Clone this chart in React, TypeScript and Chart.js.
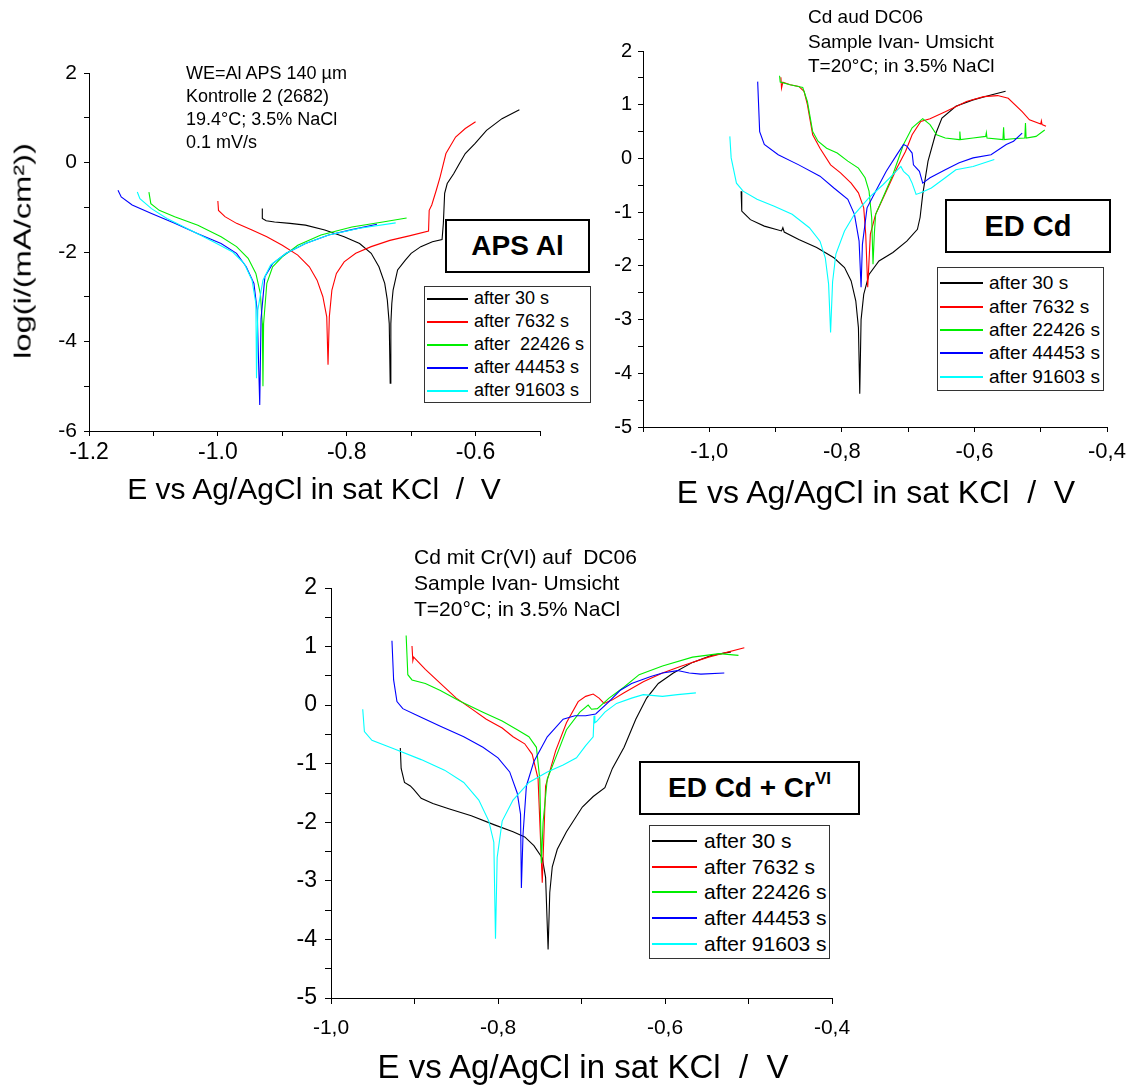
import React, { useEffect, useRef } from "react";
import { Chart, registerables } from "chart.js";

Chart.register(...registerables);

const FONT = '"Liberation Sans", Arial, Helvetica, sans-serif';
const PAGE_W = 1136;
const PAGE_H = 1091;
const YW = 60;
const XH = 50;

// ---------- shared legend / colours ----------
const apsLegendLabels = ["after 30 s", "after 7632 s", "after  22426 s", "after 44453 s", "after 91603 s"];
const cdLegendLabels = ["after 30 s", "after 7632 s", "after 22426 s", "after 44453 s", "after 91603 s"];
const seriesColors = ["#000000", "#ff0000", "#00ee00", "#0000ff", "#00ffff"];

// ---------- tick labels ----------
const apsXTickLabels = ["-1.2", "-1.0", "-0.8", "-0.6"];
const apsYTickLabels = ["-6", "-4", "-2", "0", "2"];
const cdXTickLabels = ["-1,0", "-0,8", "-0,6", "-0,4"];
const cdYTickLabels = ["-5", "-4", "-3", "-2", "-1", "0", "1", "2"];

// ---------- Panel 1: APS Al ----------
const apsE30 = [-0.931, -0.931, -0.925, -0.912, -0.888, -0.864, -0.834, -0.804, -0.780, -0.762, -0.750, -0.741, -0.737, -0.734, -0.7325, -0.7315, -0.730, -0.728, -0.721, -0.709, -0.700, -0.685, -0.667, -0.652, -0.650, -0.648, -0.644, -0.634, -0.625, -0.616, -0.601, -0.583, -0.559, -0.532];
const apsI30 = [-1.03, -1.25, -1.30, -1.33, -1.36, -1.40, -1.51, -1.66, -1.81, -2.03, -2.33, -2.70, -3.07, -3.60, -4.93, -3.60, -3.15, -2.85, -2.40, -2.18, -2.03, -1.88, -1.77, -1.72, -1.36, -0.69, -0.47, -0.25, -0.02, 0.20, 0.42, 0.72, 0.98, 1.18];
const apsE7632 = [-1.0, -0.999, -0.989, -0.971, -0.947, -0.924, -0.900, -0.876, -0.858, -0.846, -0.837, -0.831, -0.829, -0.827, -0.823, -0.816, -0.804, -0.786, -0.762, -0.733, -0.703, -0.673, -0.672, -0.668, -0.661, -0.655, -0.646, -0.631, -0.616, -0.600];
const apsI7632 = [-0.86, -1.07, -1.21, -1.36, -1.51, -1.66, -1.85, -2.07, -2.33, -2.63, -3.0, -3.45, -4.52, -3.45, -2.85, -2.48, -2.22, -2.03, -1.88, -1.74, -1.64, -1.53, -1.07, -0.95, -0.62, -0.32, 0.20, 0.57, 0.76, 0.91];
const apsE22426 = [-1.107, -1.104, -1.091, -1.067, -1.031, -0.995, -0.971, -0.953, -0.941, -0.934, -0.931, -0.930, -0.929, -0.924, -0.915, -0.900, -0.876, -0.840, -0.792, -0.744, -0.707];
const apsI22426 = [-0.66, -0.92, -1.07, -1.21, -1.40, -1.66, -1.88, -2.14, -2.48, -2.93, -3.6, -5.0, -3.6, -2.70, -2.33, -2.11, -1.85, -1.62, -1.44, -1.33, -1.24];
const apsE44453 = [-1.155, -1.150, -1.133, -1.103, -1.067, -1.031, -0.995, -0.971, -0.956, -0.944, -0.939, -0.935, -0.933, -0.927, -0.915, -0.894, -0.864, -0.828, -0.792, -0.753];
const apsI44453 = [-0.62, -0.77, -0.95, -1.14, -1.36, -1.59, -1.81, -2.03, -2.33, -2.70, -3.30, -5.42, -3.5, -2.55, -2.26, -2.03, -1.81, -1.62, -1.50, -1.38];
const apsE91603 = [-1.125, -1.121, -1.103, -1.079, -1.043, -1.007, -0.977, -0.959, -0.947, -0.941, -0.940, -0.938, -0.930, -0.918, -0.894, -0.864, -0.828, -0.780, -0.724];
const apsI91603 = [-0.66, -0.81, -1.03, -1.25, -1.51, -1.77, -2.0, -2.26, -2.63, -3.15, -4.82, -3.3, -2.63, -2.29, -2.03, -1.81, -1.62, -1.47, -1.35];

// ---------- Panel 2: ED Cd ----------
const cdE30 = [-0.952, -0.951, -0.946, -0.938, -0.917, -0.891, -0.889, -0.887, -0.865, -0.838, -0.812, -0.796, -0.786, -0.779, -0.775, -0.773, -0.771, -0.767, -0.759, -0.744, -0.723, -0.702, -0.686, -0.682, -0.678, -0.670, -0.659, -0.649, -0.628, -0.602, -0.575, -0.553];
const cdI30 = [-0.61, -0.98, -1.04, -1.14, -1.26, -1.35, -1.29, -1.37, -1.51, -1.66, -1.85, -2.03, -2.28, -2.65, -3.15, -4.38, -3.0, -2.53, -2.16, -1.91, -1.75, -1.54, -1.32, -1.10, -0.67, -0.05, 0.44, 0.75, 0.97, 1.09, 1.18, 1.25];
const cdE7632 = [-0.892, -0.891, -0.889, -0.878, -0.865, -0.857, -0.852, -0.844, -0.833, -0.817, -0.802, -0.786, -0.775, -0.767, -0.764, -0.761, -0.759, -0.757, -0.749, -0.733, -0.717, -0.704, -0.694, -0.681, -0.667, -0.644, -0.612, -0.586, -0.565, -0.549, -0.528, -0.517, -0.500, -0.499, -0.498, -0.492];
const cdI7632 = [1.51, 1.31, 1.42, 1.37, 1.34, 1.25, 1.0, 0.44, 0.19, -0.12, -0.27, -0.46, -0.64, -0.92, -1.41, -2.40, -1.9, -1.41, -1.04, -0.61, -0.18, 0.13, 0.44, 0.69, 0.74, 0.87, 1.06, 1.15, 1.17, 1.12, 0.87, 0.72, 0.64, 0.70, 0.63, 0.60];
const cdE22426 = [-0.894, -0.893, -0.878, -0.859, -0.852, -0.844, -0.836, -0.823, -0.807, -0.791, -0.775, -0.765, -0.759, -0.755, -0.753, -0.751, -0.749, -0.736, -0.723, -0.707, -0.694, -0.678, -0.667, -0.657, -0.644, -0.623, -0.622, -0.621, -0.602, -0.583, -0.582, -0.581, -0.557, -0.556, -0.555, -0.538, -0.524, -0.523, -0.522, -0.507, -0.494];
const cdI22426 = [1.54, 1.42, 1.37, 1.32, 1.06, 0.50, 0.32, 0.19, 0.10, -0.05, -0.18, -0.36, -0.61, -1.10, -1.97, -1.4, -1.04, -0.67, -0.30, 0.26, 0.57, 0.74, 0.63, 0.44, 0.38, 0.35, 0.50, 0.35, 0.38, 0.41, 0.48, 0.38, 0.35, 0.58, 0.35, 0.37, 0.38, 0.66, 0.38, 0.41, 0.53];
const cdE44453 = [-0.927, -0.924, -0.917, -0.896, -0.865, -0.833, -0.812, -0.791, -0.781, -0.774, -0.771, -0.769, -0.762, -0.749, -0.733, -0.717, -0.707, -0.702, -0.694, -0.692, -0.683, -0.678, -0.667, -0.644, -0.623, -0.602, -0.575, -0.552, -0.541, -0.528];
const cdI44453 = [1.43, 0.50, 0.26, 0.07, -0.12, -0.33, -0.55, -0.76, -1.04, -1.54, -2.40, -1.6, -0.92, -0.61, -0.24, 0.07, 0.26, 0.23, 0.10, -0.12, -0.24, -0.46, -0.36, -0.21, -0.08, 0.01, 0.07, 0.26, 0.32, 0.47];
const cdE91603 = [-0.969, -0.967, -0.959, -0.949, -0.928, -0.902, -0.875, -0.849, -0.833, -0.825, -0.820, -0.817, -0.814, -0.809, -0.796, -0.781, -0.759, -0.738, -0.723, -0.711, -0.707, -0.699, -0.694, -0.688, -0.681, -0.665, -0.644, -0.628, -0.602, -0.570];
const cdI91603 = [0.41, 0.01, -0.46, -0.61, -0.76, -0.89, -1.04, -1.29, -1.54, -1.85, -2.34, -3.24, -2.3, -1.78, -1.35, -1.04, -0.73, -0.49, -0.30, -0.15, -0.24, -0.33, -0.46, -0.67, -0.64, -0.55, -0.36, -0.21, -0.15, -0.02];

// ---------- Panel 3: ED Cd + Cr(VI) ----------
const crE30 = [-0.917, -0.916, -0.912, -0.905, -0.901, -0.892, -0.878, -0.859, -0.832, -0.805, -0.782, -0.768, -0.757, -0.747, -0.743, -0.740, -0.738, -0.735, -0.729, -0.718, -0.699, -0.686, -0.672, -0.663, -0.649, -0.635, -0.622, -0.608, -0.590, -0.567, -0.544, -0.521];
const crI30 = [-0.73, -1.08, -1.32, -1.38, -1.44, -1.59, -1.68, -1.77, -1.89, -2.04, -2.16, -2.25, -2.40, -2.61, -2.94, -4.17, -3.2, -2.76, -2.46, -2.16, -1.74, -1.56, -1.41, -1.08, -0.72, -0.24, 0.12, 0.37, 0.55, 0.73, 0.85, 0.91];
const crE7632 = [-0.903, -0.902, -0.901, -0.887, -0.869, -0.850, -0.832, -0.814, -0.795, -0.782, -0.768, -0.759, -0.752, -0.747, -0.745, -0.743, -0.731, -0.718, -0.704, -0.695, -0.686, -0.679, -0.673, -0.663, -0.649, -0.626, -0.603, -0.580, -0.548, -0.505];
const crI7632 = [1.01, 0.76, 0.82, 0.61, 0.37, 0.12, -0.06, -0.24, -0.39, -0.54, -0.66, -0.84, -1.26, -3.03, -2.2, -1.38, -0.78, -0.30, 0.06, 0.15, 0.19, 0.12, 0.03, 0.09, 0.21, 0.40, 0.55, 0.67, 0.82, 0.98];
const crE22426 = [-0.910, -0.908, -0.903, -0.887, -0.869, -0.846, -0.818, -0.795, -0.777, -0.763, -0.754, -0.750, -0.748, -0.746, -0.741, -0.731, -0.718, -0.702, -0.692, -0.688, -0.681, -0.667, -0.649, -0.631, -0.603, -0.567, -0.535, -0.512];
const crI22426 = [1.19, 0.52, 0.43, 0.37, 0.25, 0.07, -0.12, -0.27, -0.42, -0.54, -0.72, -1.26, -2.70, -2.0, -1.26, -0.90, -0.42, -0.12, 0.0, -0.07, -0.06, 0.12, 0.31, 0.52, 0.67, 0.82, 0.88, 0.85];
const crE44453 = [-0.927, -0.925, -0.921, -0.914, -0.896, -0.869, -0.841, -0.818, -0.800, -0.786, -0.777, -0.773, -0.772, -0.770, -0.766, -0.757, -0.741, -0.722, -0.708, -0.695, -0.683, -0.667, -0.654, -0.640, -0.617, -0.603, -0.585, -0.571, -0.557, -0.529];
const crI44453 = [1.10, 0.43, 0.06, -0.06, -0.18, -0.36, -0.54, -0.72, -0.90, -1.14, -1.50, -1.86, -3.12, -2.2, -1.38, -0.96, -0.54, -0.24, -0.18, -0.18, -0.15, 0.06, 0.25, 0.37, 0.49, 0.55, 0.59, 0.55, 0.53, 0.55];
const crE91603 = [-0.962, -0.960, -0.951, -0.924, -0.892, -0.864, -0.841, -0.823, -0.811, -0.805, -0.803, -0.801, -0.795, -0.782, -0.763, -0.741, -0.722, -0.706, -0.695, -0.686, -0.685, -0.684, -0.682, -0.672, -0.658, -0.640, -0.626, -0.603, -0.585, -0.563];
const crI91603 = [-0.07, -0.45, -0.60, -0.75, -0.93, -1.11, -1.32, -1.62, -1.98, -2.34, -3.99, -2.6, -1.98, -1.62, -1.32, -1.14, -1.02, -0.90, -0.69, -0.54, -0.18, -0.30, -0.28, -0.12, 0.03, 0.12, 0.18, 0.15, 0.18, 0.21];

type Area = { l: number; t: number; r: number; b: number };
type PanelCfg = {
  area: Area;
  xMin: number; xMax: number; xStep: number;
  yMin: number; yMax: number; yStep: number;
  xLabels: string[]; yLabels: string[];
  xFont: number; yFont: number; xPad: number; yPad: number; tickLen: number;
  series: { e: number[]; i: number[] }[];
  names: string[];
};

const panels: PanelCfg[] = [
  {
    area: { l: 89, t: 73, r: 540, b: 431 },
    xMin: -1.2, xMax: -0.5, xStep: 0.1, yMin: -6, yMax: 2, yStep: 1,
    xLabels: apsXTickLabels, yLabels: apsYTickLabels,
    xFont: 23, yFont: 21, xPad: 3, yPad: 7, tickLen: 5,
    series: [
      { e: apsE30, i: apsI30 }, { e: apsE7632, i: apsI7632 }, { e: apsE22426, i: apsI22426 },
      { e: apsE44453, i: apsI44453 }, { e: apsE91603, i: apsI91603 },
    ],
    names: apsLegendLabels,
  },
  {
    area: { l: 643, t: 51, r: 1107, b: 427 },
    xMin: -1.1, xMax: -0.4, xStep: 0.1, yMin: -5, yMax: 2, yStep: 0.5,
    xLabels: cdXTickLabels, yLabels: cdYTickLabels,
    xFont: 22, yFont: 20, xPad: 7, yPad: 6, tickLen: 5,
    series: [
      { e: cdE30, i: cdI30 }, { e: cdE7632, i: cdI7632 }, { e: cdE22426, i: cdI22426 },
      { e: cdE44453, i: cdI44453 }, { e: cdE91603, i: cdI91603 },
    ],
    names: cdLegendLabels,
  },
  {
    area: { l: 331, t: 588, r: 832, b: 998 },
    xMin: -1.0, xMax: -0.4, xStep: 0.1, yMin: -5, yMax: 2, yStep: 0.5,
    xLabels: cdXTickLabels, yLabels: cdYTickLabels,
    xFont: 21, yFont: 23, xPad: 12, yPad: 8, tickLen: 6,
    series: [
      { e: crE30, i: crI30 }, { e: crE7632, i: crI7632 }, { e: crE22426, i: crI22426 },
      { e: crE44453, i: crI44453 }, { e: crE91603, i: crI91603 },
    ],
    names: cdLegendLabels,
  },
];

const labelFor = (labels: string[], v: number) => {
  const hit = labels.find((l) => Math.abs(parseFloat(l.replace(",", ".")) - v) < 1e-6);
  return hit ?? "";
};

function buildChart(canvas: HTMLCanvasElement, p: PanelCfg) {
  const grid = {
    display: true,
    drawOnChartArea: false,
    drawTicks: true,
    tickLength: p.tickLen,
    color: "#000",
    lineWidth: 1,
  };
  const border = { display: true, color: "#000", width: 1 };
  return new Chart(canvas, {
    type: "scatter",
    data: {
      datasets: p.series.map((s, k) => ({
        label: p.names[k],
        data: s.e.map((x, j) => ({ x, y: s.i[j] })),
        borderColor: seriesColors[k],
        backgroundColor: seriesColors[k],
        borderWidth: 1.1,
        pointRadius: 0,
        showLine: true,
        tension: 0,
        fill: false,
        order: 4 - k,
      })),
    },
    options: {
      animation: false,
      responsive: false,
      maintainAspectRatio: false,
      events: [],
      layout: {
        padding: {
          left: p.area.l - YW,
          top: p.area.t,
          right: PAGE_W - p.area.r,
          bottom: PAGE_H - p.area.b - XH,
        },
      },
      plugins: { legend: { display: false }, tooltip: { enabled: false }, title: { display: false } },
      scales: {
        x: {
          type: "linear",
          position: "bottom",
          min: p.xMin,
          max: p.xMax,
          afterFit: (s: any) => {
            s.height = XH;
            s.paddingLeft = 0;
            s.paddingRight = 0;
          },
          ticks: {
            stepSize: p.xStep,
            autoSkip: false,
            maxRotation: 0,
            minRotation: 0,
            padding: p.xPad,
            color: "#000",
            font: { family: FONT, size: p.xFont },
            callback: (v: any) => labelFor(p.xLabels, Number(v)),
          },
          grid,
          border,
        },
        y: {
          type: "linear",
          position: "left",
          min: p.yMin,
          max: p.yMax,
          afterFit: (s: any) => {
            s.width = YW;
            s.paddingTop = 0;
            s.paddingBottom = 0;
          },
          ticks: {
            stepSize: p.yStep,
            autoSkip: false,
            padding: p.yPad,
            color: "#000",
            font: { family: FONT, size: p.yFont },
            callback: (v: any) => labelFor(p.yLabels, Number(v)),
          },
          grid,
          border,
        },
      },
    } as any,
  });
}

const abs = (l: number, t: number, extra: React.CSSProperties = {}): React.CSSProperties => ({
  position: "absolute",
  left: l,
  top: t,
  ...extra,
});

function Legend(props: {
  box: { l: number; t: number; w: number; h: number };
  rows: number[];
  line: [number, number];
  textX: number;
  font: number;
  labels: string[];
}) {
  const { box, rows, line, textX, font, labels } = props;
  const lh = font * 1.2;
  return (
    <>
      <div
        style={abs(box.l, box.t, {
          width: box.w,
          height: box.h,
          border: "1px solid #333",
          boxSizing: "border-box",
          background: "#fff",
        })}
      />
      {rows.map((y, k) => (
        <React.Fragment key={k}>
          <div
            style={abs(line[0], Math.round(y) - 1, {
              width: line[1] - line[0],
              height: 2,
              background: seriesColors[k],
            })}
          />
          <div
            style={abs(textX, y - lh / 2, {
              fontFamily: FONT,
              fontSize: font,
              lineHeight: `${lh}px`,
              whiteSpace: "pre",
              color: "#000",
            })}
          >
            {labels[k]}
          </div>
        </React.Fragment>
      ))}
    </>
  );
}

function TitleBox(props: { l: number; t: number; w: number; h: number; font: number; children: React.ReactNode }) {
  const { l, t, w, h, font, children } = props;
  return (
    <div
      style={abs(l, t, {
        width: w,
        height: h,
        border: "2px solid #000",
        boxSizing: "border-box",
        background: "#fff",
        display: "flex",
        alignItems: "center",
        justifyContent: "center",
        fontFamily: FONT,
        fontWeight: "bold",
        fontSize: font,
        color: "#000",
        whiteSpace: "pre",
      })}
    >
      {children}
    </div>
  );
}

function Notes(props: { l: number; t: number; font: number; lh: number; lines: string[] }) {
  return (
    <div
      style={abs(props.l, props.t, {
        fontFamily: FONT,
        fontSize: props.font,
        lineHeight: `${props.lh}px`,
        whiteSpace: "pre",
        color: "#000",
      })}
    >
      {props.lines.join("\n")}
    </div>
  );
}

function CenterText(props: { cx: number; cy: number; font: number; text: string; transform?: string }) {
  return (
    <div
      style={abs(props.cx, props.cy, {
        fontFamily: FONT,
        fontSize: props.font,
        lineHeight: 1.2,
        whiteSpace: "pre",
        color: "#000",
        transform: `translate(-50%, -50%) ${props.transform ?? ""}`,
      })}
    >
      {props.text}
    </div>
  );
}

export default function App() {
  const r1 = useRef<HTMLCanvasElement>(null);
  const r2 = useRef<HTMLCanvasElement>(null);
  const r3 = useRef<HTMLCanvasElement>(null);

  useEffect(() => {
    Chart.defaults.font.family = FONT;
    const refs = [r1, r2, r3];
    const charts = refs.map((r, k) => buildChart(r.current as HTMLCanvasElement, panels[k]));
    return () => charts.forEach((c) => c.destroy());
  }, []);

  const canvasStyle: React.CSSProperties = {
    position: "absolute",
    left: 0,
    top: 0,
    width: PAGE_W,
    height: PAGE_H,
  };

  return (
    <div style={{ position: "absolute", left: 0, top: 0, width: PAGE_W, height: PAGE_H, background: "#fff", overflow: "hidden" }}>
      <canvas ref={r1} width={PAGE_W} height={PAGE_H} style={canvasStyle} />
      <canvas ref={r2} width={PAGE_W} height={PAGE_H} style={canvasStyle} />
      <canvas ref={r3} width={PAGE_W} height={PAGE_H} style={canvasStyle} />

      {/* Panel 1 */}
      <Notes l={186} t={62} font={18} lh={23} lines={["WE=Al APS 140 µm", "Kontrolle 2 (2682)", "19.4°C; 3.5% NaCl", "0.1 mV/s"]} />
      <CenterText cx={23} cy={251} font={24} text="log(i/(mA/cm²))" transform="rotate(-90deg) scaleX(1.36)" />
      <CenterText cx={314} cy={489} font={30} text="E vs Ag/AgCl in sat KCl  /  V" />
      <TitleBox l={445} t={219} w={145} h={54} font={28}>APS Al</TitleBox>
      <Legend box={{ l: 424, t: 286, w: 167, h: 117 }} rows={[299, 322, 345, 368, 391]} line={[427, 468]} textX={474} font={18} labels={apsLegendLabels} />

      {/* Panel 2 */}
      <Notes l={808} t={5} font={19} lh={24.5} lines={["Cd aud DC06", "Sample Ivan- Umsicht", "T=20°C; in 3.5% NaCl"]} />
      <CenterText cx={876} cy={492} font={32} text="E vs Ag/AgCl in sat KCl  /  V" />
      <TitleBox l={945} t={199} w={166} h={54} font={29}>ED Cd</TitleBox>
      <Legend box={{ l: 937, t: 267, w: 167, h: 124 }} rows={[283, 307, 330, 353, 377]} line={[940, 983]} textX={989} font={19} labels={cdLegendLabels} />

      {/* Panel 3 */}
      <Notes l={414} t={544} font={21} lh={26} lines={["Cd mit Cr(VI) auf  DC06", "Sample Ivan- Umsicht", "T=20°C; in 3.5% NaCl"]} />
      <CenterText cx={583} cy={1067} font={33} text="E vs Ag/AgCl in sat KCl  /  V" />
      <TitleBox l={639} t={761} w={221} h={54} font={28}>
        <span>
          ED Cd + Cr<sup style={{ fontSize: 17, verticalAlign: "top", position: "relative", top: -3 }}>VI</sup>
        </span>
      </TitleBox>
      <Legend box={{ l: 649, t: 825, w: 181, h: 134 }} rows={[841, 867, 892, 918, 944]} line={[652, 697]} textX={704} font={21} labels={cdLegendLabels} />
    </div>
  );
}
